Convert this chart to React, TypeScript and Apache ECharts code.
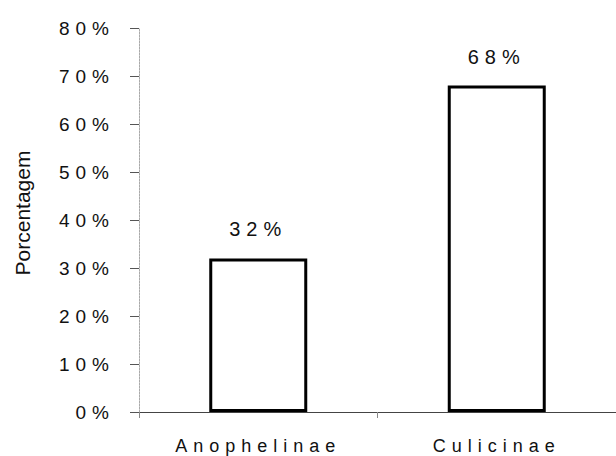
import React, { useEffect, useRef } from "react";
import * as echarts from "echarts";

// Mosquito subfamily shares (%)
const categories = ["Anophelinae", "Culicinae"];
const percentages = [32, 68];
const yMin = 0;
const yMax = 80;
const yStep = 10;
const yAxisTitle = "Porcentagem";

const FONT = "'Liberation Sans', Arial, Helvetica, sans-serif";

export default function App() {
  const ref = useRef<HTMLDivElement>(null);

  useEffect(() => {
    if (!ref.current) return;
    const chart = echarts.init(ref.current, undefined, { renderer: "svg" });
    chart.setOption({
      animation: false,
      backgroundColor: "#ffffff",
      grid: { left: 139, top: 28, width: 488, height: 384, containLabel: false },
      xAxis: {
        type: "category",
        data: categories,
        boundaryGap: true,
        axisLine: { show: true, lineStyle: { color: "#444", width: 1 } },
        axisTick: { show: true, length: 6, lineStyle: { color: "#888" } },
        axisLabel: {
          margin: 25,
          fontFamily: FONT,
          fontSize: 18,
          color: "#111",
        },
        splitLine: { show: false },
      },
      yAxis: {
        type: "value",
        min: yMin,
        max: yMax,
        interval: yStep,
        name: yAxisTitle,
        nameLocation: "middle",
        nameGap: 106,
        nameRotate: 90,
        nameTextStyle: {
          fontFamily: FONT,
          fontSize: 21,
          color: "#111",
          padding: [0, 0, 0, 14],
        },
        axisLine: { show: true, lineStyle: { color: "#aaa", width: 1, type: [2, 1] } },
        axisTick: { show: true, inside: false, length: 9, lineStyle: { color: "#555" } },
        axisLabel: {
          margin: 24,
          formatter: "{value}%",
          fontFamily: FONT,
          fontSize: 19,
          color: "#111",
        },
        splitLine: { show: false },
      },
      series: [
        {
          type: "bar",
          data: percentages,
          barWidth: 98,
          itemStyle: { color: "#ffffff", borderColor: "#000", borderWidth: 3 },
          label: {
            show: true,
            position: "top",
            distance: 19,
            formatter: "{c}%",
            fontFamily: FONT,
            fontSize: 20,
            color: "#111",
          },
        },
      ],
    });

    // Spread out the letters of the tick and value labels (the axis title stays tight)
    ref.current.querySelectorAll("text").forEach((t) => {
      const s = t.textContent || "";
      if (s === yAxisTitle) return;
      (t as SVGTextElement).style.letterSpacing = "6px";
    });

    return () => chart.dispose();
  }, []);

  return (
    <div
      ref={ref}
      style={{ position: "absolute", left: 0, top: 0, width: 616, height: 456, background: "#fff" }}
    />
  );
}
